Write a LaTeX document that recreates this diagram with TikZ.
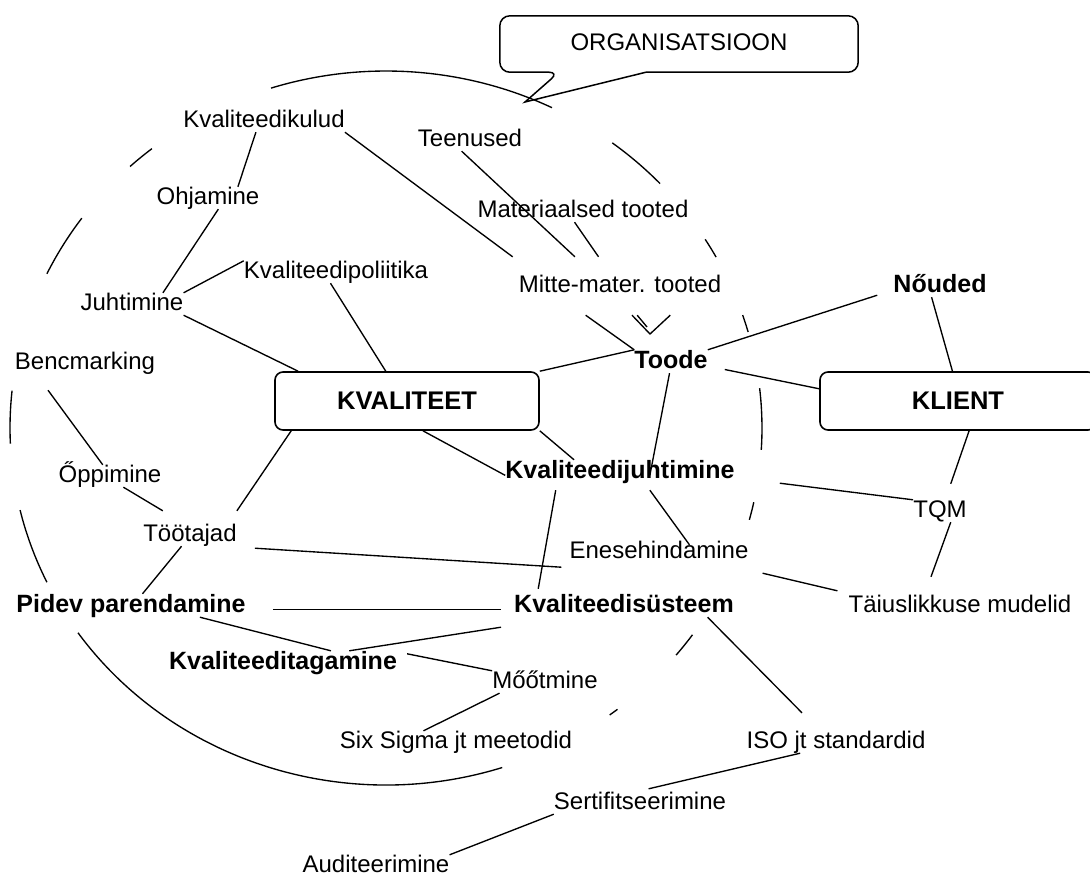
\documentclass[tikz,border=0pt]{standalone}
\usepackage{fontspec}
\setmainfont{Liberation Sans}
\usetikzlibrary{calc}

% point at fraction #3 along the #2 edge (north/south/mid/base) of node #1
\def\edgept#1#2#3{($(#1.#2 west)!#3!(#1.#2 east)$)}
% same, shifted by #4
\def\edgeptoff#1#2#3#4{($(#1.#2 west)!#3!(#1.#2 east)+(#4)$)}
% one stroke of the dashed ring round the organisation
\def\ringarc#1#2{\draw[ring] ($(O)+(#1:376 and 357)$) arc[start angle=#1, end angle=#2, x radius=376, y radius=357];}

\tikzset{
  lbl/.style={anchor=base, inner sep=0pt, text height=17pt, text depth=5pt,
    font=\fontsize{24}{28}\selectfont},
  blbl/.style={lbl, text height=18pt, font=\fontsize{25}{30}\selectfont\bfseries},
  hub/.style={draw, line width=1.6pt, rounded corners=8pt, minimum height=58pt,
    inner sep=0pt, font=\fontsize{25.5}{30}\selectfont\bfseries},
  link/.style={line width=1.35pt},
  ring/.style={line width=1.35pt},
  boxline/.style={line width=1.5pt}
}

\begin{document}
\begin{tikzpicture}[x=1pt,y=-1pt]
\fill[white] (0,0) rectangle (1090,892);
\useasboundingbox (0,0) rectangle (1090,892);

% dashed ring
\coordinate (O) at (386,428);
\ringarc{-63.8}{-107.8}
\ringarc{-53}{-43.2}
\ringarc{-31.9}{-28.6}
\ringarc{-18.45}{-15.6}
\ringarc{-6.4}{3.5}
\ringarc{12}{14.9}
\ringarc{35.4}{39.5}
\ringarc{52}{53.5}
\ringarc{72}{145}
\ringarc{154.4}{166.7}
\ringarc{177.5}{186}
\ringarc{-144}{-154.4}
\ringarc{-128.5}{-132.9}

% callout
\node[lbl, anchor=center, minimum width=358pt, minimum height=56pt] (org) at (679,44) {ORGANISATSIOON};
\coordinate (orgtip) at (525,102);
\draw[boxline] \edgept{org}{south}{0.165} -- (orgtip) -- \edgept{org}{south}{0.408}
  [rounded corners=10pt] -- (org.south east) -- (org.north east) -- (org.north west) -- (org.south west) -- cycle;

% main boxes
\node[hub, minimum width=264pt] (kval) at (407,401) {KVALITEET};
\node[hub, minimum width=276pt] (klient) at (958,401) {KLIENT};

% labels
\node[lbl] (kulud) at (264,127) {Kvaliteedikulud};
\node[lbl] (teen) at (470,146) {Teenused};
\node[lbl] (ohj) at (208,204) {Ohjamine};
\node[lbl] (mat) at (583,217) {Materiaalsed tooted};
\node[lbl] (poli) at (336,278) {Kvaliteedipoliitika};
\node[lbl] (juht) at (132,310) {Juhtimine};
\node[lbl, inner ysep=18pt, inner xsep=6pt] (mitte) at (620,292) {Mitte-mater. tooted};
\node[blbl] (noud) at (940,292) {Nőuded};
\node[blbl] (toode) at (671,368) {Toode};
\node[lbl] (bench) at (85,369) {Bencmarking};
\node[blbl] (kjuht) at (620,478) {Kvaliteedijuhtimine};
\node[lbl] (opp) at (110,482) {Őppimine};
\node[lbl] (tqm) at (940,517) {TQM};
\node[lbl, text height=30pt] (toot) at (190,541) {Töötajad};
\node[lbl] (enes) at (659,558) {Enesehindamine};
\node[blbl] (pidev) at (131,612) {Pidev parendamine};
\node[blbl] (ksys) at (624,612) {Kvaliteedisüsteem};
\node[lbl] (taius) at (960,612) {Täiuslikkuse mudelid};
\node[blbl] (ktag) at (283,669) {Kvaliteeditagamine};
\node[lbl] (mootm) at (545,688) {Mőőtmine};
\node[lbl] (six) at (456,748) {Six Sigma jt meetodid};
\node[lbl] (iso) at (836,748) {ISO jt standardid};
\node[lbl] (sert) at (640,809) {Sertifitseerimine};
\node[lbl] (audit) at (376,872) {Auditeerimine};

% connectors
\draw[link] \edgept{kulud}{south}{0.45} -- \edgept{ohj}{north}{0.79};
\draw[link] \edgept{ohj}{south}{0.6} -- \edgept{juht}{north}{0.8};
\draw[link] (kulud.south east) -- (mitte.north west);
\draw[link] \edgept{teen}{south}{0.42} -- \edgept{mitte}{north}{0.29};
\draw[link] \edgept{mat}{south}{0.46} -- \edgept{mitte}{north}{0.40};
\draw[link] (juht.north east) -- (poli.north west);
\draw[link] (juht.south east) -- \edgept{kval}{north}{0.09};
\draw[link] \edgept{poli}{south}{0.47} -- \edgept{kval}{north}{0.42};
\draw[link] \edgept{mitte}{south}{0.34} -- (toode.north west);

% open head pointing at Toode
\coordinate (vtip) at (650,334);
\draw[link] \edgept{mitte}{south}{0.556} -- (vtip) -- \edgept{mitte}{south}{0.734};
\draw[link] \edgept{mitte}{south}{0.58} -- ($(vtip)+(-3,-7)$);

\draw[link] (toode.north east) -- ($(noud.south west)+(-16,-2)$);
\draw[link] \edgept{noud}{south}{0.41} -- \edgept{klient}{north}{0.48};
\draw[link] ($(toode.east)+(17,8)$) -- ($(klient.west)!0.41!(klient.north west)$);
\draw[link] (toode.north west) -- (kval.north east);
\draw[link] \edgept{toode}{south}{0.48} -- \edgept{kjuht}{mid}{0.63};
\draw[link] \edgeptoff{kjuht}{south}{0.63}{0,7} -- \edgeptoff{enes}{north}{0.67}{0,4};
\draw[link] \edgept{kval}{south}{0.56} -- (kjuht.mid west);
\draw[link] (kval.south east) -- \edgept{kjuht}{north}{0.3};
\draw[link] \edgept{kval}{south}{0.064} -- (toot.north east);
\draw[link] ($(bench.south)+(-37,16)$) -- \edgept{opp}{north}{0.43};
\draw[link] \edgept{opp}{south}{0.63} -- \edgept{toot}{north}{0.21};
\draw[link] \edgept{toot}{south}{0.41} -- \edgept{pidev}{north}{0.55};
\draw[link] ($(toot.south east)+(18,2)$) -- ($(enes.south west)+(-8,4)$);
\draw[link] \edgeptoff{kjuht}{south}{0.22}{0,7} -- \edgeptoff{ksys}{north}{0.11}{0,-5};
\draw[link, shorten <=27pt, shorten >=13pt] (pidev.mid east) -- (ksys.mid west);
\draw[link] ($(ksys.south west)+(-13,10)$) -- \edgept{ktag}{north}{0.79};
\draw[link] \edgept{pidev}{south}{0.8} -- \edgept{ktag}{north}{0.71};
\draw[link] ($(ktag.north east)+(10,3)$) -- (mootm.north west);
\draw[link] \edgept{mootm}{south}{0.07} -- \edgept{six}{north}{0.36};
\draw[link] \edgept{ksys}{south}{0.88} -- \edgeptoff{iso}{north}{0.31}{0,-18};
\draw[link] \edgept{iso}{south}{0.3} -- \edgeptoff{sert}{north}{0.55}{0,-3};
\draw[link] (sert.south west) -- (audit.north east);
\draw[link] \edgept{klient}{south}{0.54} -- \edgeptoff{tqm}{north}{0.7}{0,-16};
\draw[link] \edgept{tqm}{south}{0.7} -- \edgeptoff{taius}{north}{0.37}{0,-18};
\draw[link] ($(kjuht.south east)+(45,0)$) -- (tqm.north west);
\draw[link] ($(enes.south east)+(14,10)$) -- ($(taius.north west)+(-11,-4)$);
\end{tikzpicture}
\end{document}
